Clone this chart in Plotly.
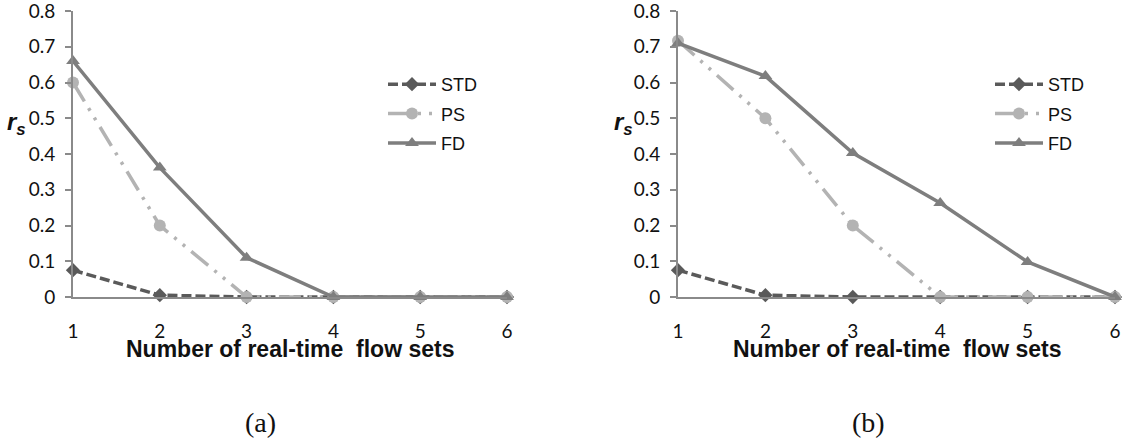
import plotly.graph_objects as go

# Number of real-time flow sets (x) and r_s values for each scheme
flow_sets = [1, 2, 3, 4, 5, 6]

std_a = [0.075, 0.005, 0.0, 0.0, 0.0, 0.0]
ps_a = [0.60, 0.20, 0.0, 0.0, 0.0, 0.0]
fd_a = [0.66, 0.362, 0.11, 0.0, 0.0, 0.0]

std_b = [0.075, 0.005, 0.0, 0.0, 0.0, 0.0]
ps_b = [0.717, 0.50, 0.20, 0.0, 0.0, 0.0]
fd_b = [0.71, 0.618, 0.403, 0.263, 0.098, 0.0]

y_ticks = [0, 0.1, 0.2, 0.3, 0.4, 0.5, 0.6, 0.7, 0.8]
y_tick_text = ["0", "0.1", "0.2", "0.3", "0.4", "0.5", "0.6", "0.7", "0.8"]
series_names = ["STD", "PS", "FD"]
x_title = "Number of real-time\u00a0 flow sets"
captions = ["(a)", "(b)"]

W, H = 1126, 439

styles = {
    "STD": dict(color="#5a5a5a", dash="10px,4px", symbol="diamond", size=11),
    "PS": dict(color="#b3b3b3", dash="22px,8px,3px,8px,3px,8px", symbol="circle", size=12),
    "FD": dict(color="#7e7e7e", dash="solid", symbol="triangle-up", size=12),
}

fig = go.Figure()

panels = [
    ("x", "y", "legend", [std_a, ps_a, fd_a]),
    ("x2", "y2", "legend2", [std_b, ps_b, fd_b]),
]
for xa, ya, lg, values in panels:
    for name, vals in zip(series_names, values):
        st = styles[name]
        fig.add_trace(go.Scatter(
            x=flow_sets, y=vals, name=name, mode="lines+markers",
            xaxis=xa, yaxis=ya, legend=lg, legendgroup=lg + name,
            cliponaxis=False,
            line=dict(color=st["color"], width=3.5, dash=st["dash"]),
            marker=dict(color=st["color"], symbol=st["symbol"], size=st["size"],
                        line=dict(width=0)),
        ))

tick_font = dict(family="Lato, 'Open Sans', sans-serif", size=19, color="#111")
title_font = dict(family="Arial, 'Liberation Sans', sans-serif", size=23, color="#111")

def x_axis(domain, anchor):
    return dict(
        domain=domain, anchor=anchor, range=[1, 6], tickvals=flow_sets, automargin=False,
        showgrid=False, zeroline=False, showline=True, linecolor="#8a8a8a", linewidth=2,
        ticks="", ticklabelstandoff=16, tickfont=tick_font, ticklabeloverflow="allow",
    )

def y_axis(domain, anchor):
    return dict(
        domain=domain, anchor=anchor, range=[0, 0.8001], tickvals=y_ticks, ticktext=y_tick_text,
        automargin=False,
        showgrid=False, zeroline=False, showline=True, linecolor="#8a8a8a", linewidth=2,
        ticks="outside", ticklen=6, tickcolor="#8a8a8a", tickwidth=1.5,
        ticklabelstandoff=6, tickfont=tick_font, ticklabeloverflow="allow",
    )

y_dom = [1 - 297 / H, 1 - 11 / H]
xd1 = [73 / W, 507 / W]
xd2 = [678 / W, 1115 / W]

legend_font = dict(family="Arial, 'Liberation Sans', sans-serif", size=18, color="#111")

fig.update_layout(
    width=W, height=H,
    margin=dict(l=0, r=0, t=0, b=0, autoexpand=False),
    paper_bgcolor="white", plot_bgcolor="white",
    xaxis=x_axis(xd1, "y"), yaxis=y_axis(y_dom, "x"),
    xaxis2=x_axis(xd2, "y2"), yaxis2=y_axis(y_dom, "x2"),
    legend=dict(x=383 / W, y=1 - 66 / H, xanchor="left", yanchor="top", itemwidth=48,
                font=legend_font, tracegroupgap=3, bgcolor="rgba(0,0,0,0)"),
    legend2=dict(x=990 / W, y=1 - 66 / H, xanchor="left", yanchor="top", itemwidth=48,
                 font=legend_font, tracegroupgap=3, bgcolor="rgba(0,0,0,0)"),
    showlegend=True,
)

# Axis titles, r_s labels and sub-figure captions
for dom in [xd1, xd2]:
    fig.add_annotation(x=(dom[0] + dom[1]) / 2, y=1 - 349 / H, xref="paper", yref="paper",
                       xanchor="center", yanchor="middle",
                       text="<b>" + x_title + "</b>", showarrow=False, font=title_font)

for xpos in [28 / W, 635 / W]:
    fig.add_annotation(x=xpos, y=1 - 124 / H, xref="paper", yref="paper",
                       xanchor="right", yanchor="middle",
                       text="<b><i>r<sub>s</sub></i></b>", showarrow=False,
                       font=dict(family="Arial, 'Liberation Sans', sans-serif", size=24, color="#111"))

for cap, xpos in zip(captions, [260 / W, 868 / W]):
    fig.add_annotation(x=xpos, y=1 - 422 / H, xref="paper", yref="paper",
                       xanchor="center", yanchor="middle",
                       text=cap, showarrow=False,
                       font=dict(family="'Liberation Serif', 'DejaVu Serif', serif", size=28, color="#111"))

fig.write_html("out.html")
